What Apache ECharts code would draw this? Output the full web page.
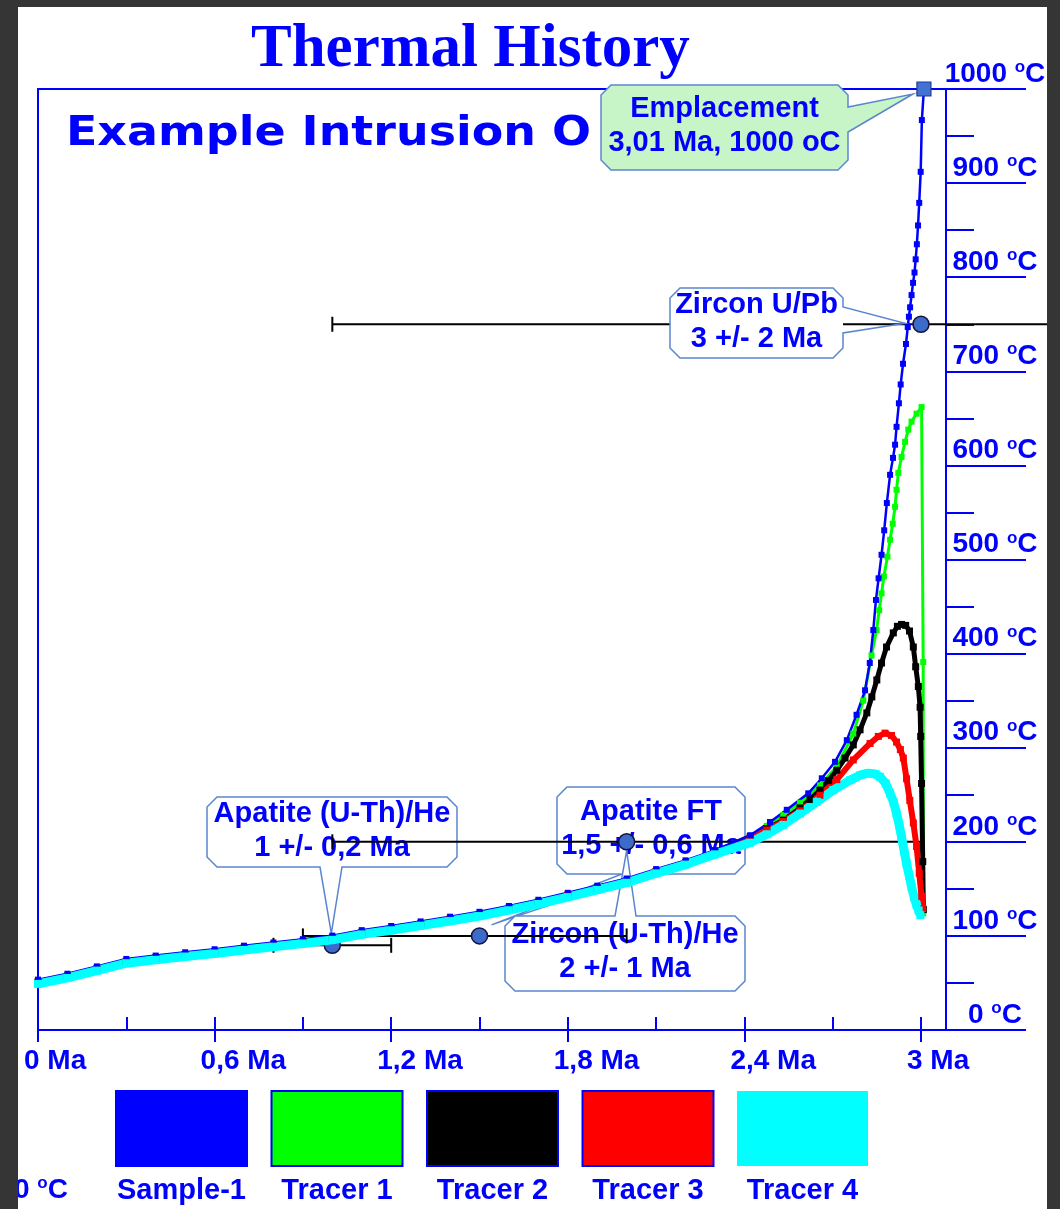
<!DOCTYPE html>
<html>
<head>
<meta charset="utf-8">
<script src="https://cdn.jsdelivr.net/npm/echarts@6/dist/echarts.min.js"></script>
<style>
html,body{margin:0;padding:0;background:#353535;}
#c{width:1060px;height:1209px;}
</style>
</head>
<body>
<div id="c"></div>
<script>
// ---------------- DATA ----------------
const titleText = 'Thermal History';
const subtitleText = 'Example Intrusion O';

// x axis (Ma) ticks and labels
const xTickValues = [0, 0.3, 0.6, 0.9, 1.2, 1.5, 1.8, 2.1, 2.4, 2.7, 3.0];
const xLabelValues = [0, 0.6, 1.2, 1.8, 2.4, 3.0];
const xLabelText = ['0 Ma', '0,6 Ma', '1,2 Ma', '1,8 Ma', '2,4 Ma', '3 Ma'];
// y axis (°C)
const yMin = 0, yMax = 1000, yInterval = 100;

const seriesNames = ['Sample-1', 'Tracer 1', 'Tracer 2', 'Tracer 3', 'Tracer 4'];

// shared time grid for the slow-cooling part (Ma)
const lowAge = [0, 0.1, 0.2, 0.3, 0.4, 0.5, 0.6, 0.7, 0.8, 0.9, 1.0, 1.1, 1.2, 1.3, 1.4, 1.5, 1.6, 1.7, 1.8, 1.9, 2.0, 2.1, 2.2, 2.3];

// Sample-1
const sample1LowTemp = [53.5, 59.8, 67.6, 75.5, 79.1, 82.6, 85.8, 89.6, 93, 96.5, 100.3, 106.1, 110.5, 115.4, 120.4, 125.6, 131.8, 138.4, 145.8, 153.4, 161, 171, 180.3, 191.2];
const sample1HighAge = [2.42, 2.487, 2.544, 2.617, 2.663, 2.708, 2.748, 2.781, 2.81, 2.826, 2.838, 2.847, 2.856, 2.866, 2.875, 2.884, 2.895, 2.905, 2.912, 2.917, 2.925, 2.931, 2.939, 2.949, 2.955, 2.959, 2.963, 2.968, 2.973, 2.978, 2.982, 2.986, 2.990, 2.994, 2.999, 3.003, 3.01];
const sample1HighTemp = [207, 221, 234, 251.5, 267.5, 285, 308, 335, 361, 390, 425, 457, 480, 505, 531, 560, 590, 608, 622, 641, 666, 686, 708, 729, 747, 758, 768, 781, 794, 805, 819, 835, 855, 879, 912, 967, 1000];

// Tracer 1
const tracer1LowTemp = [51.2, 57.5, 65.3, 73.2, 76.8, 80.3, 83.5, 87.3, 90.7, 94.2, 98, 103.8, 108.2, 113.1, 118.1, 123.3, 129.5, 136.1, 143.5, 151.1, 158.7, 168.7, 178, 188.9];
const tracer1HighAge = [2.42, 2.476, 2.532, 2.589, 2.657, 2.714, 2.77, 2.804, 2.832, 2.849, 2.858, 2.866, 2.874, 2.886, 2.895, 2.904, 2.912, 2.917, 2.923, 2.934, 2.946, 2.957, 2.968, 2.985, 3.002, 3.0075, 3.008];
const tracer1HighTemp = [206, 217, 228.5, 241.5, 260, 280, 315, 350, 398, 425, 446, 464, 482, 503, 521, 538, 556, 574, 592, 609, 625, 638, 646.5, 655, 662, 391, 124];

// Tracer 2
const tracer2LowTemp = [51, 57.3, 65.1, 73, 76.6, 80.1, 83.3, 87.1, 90.5, 94, 97.8, 103.6, 108, 112.9, 117.9, 123.1, 129.3, 135.9, 143.3, 150.9, 158.5, 168.5, 177.8, 188.7];
const tracer2HighAge = [2.42, 2.476, 2.532, 2.589, 2.623, 2.657, 2.686, 2.714, 2.742, 2.77, 2.793, 2.816, 2.833, 2.85, 2.866, 2.883, 2.906, 2.92, 2.934, 2.948, 2.961, 2.974, 2.982, 2.991, 2.997, 2.999, 3.002, 3.006, 3.008];
const tracer2HighTemp = [205.5, 214, 223, 236, 245, 255, 265, 276, 289, 303, 319, 337, 354, 372, 390, 407, 422, 429, 431, 430, 424, 407, 386, 365, 343, 312, 262, 179, 128];

// Tracer 3
const tracer3LowTemp = [50.8, 57.1, 64.9, 72.8, 76.4, 79.9, 83.1, 86.9, 90.3, 93.8, 97.6, 103.4, 107.8, 112.7, 117.7, 122.9, 129.1, 135.7, 143.1, 150.7, 158.3, 168.3, 177.6, 188.5];
const tracer3HighAge = [2.42, 2.476, 2.532, 2.589, 2.657, 2.714, 2.77, 2.827, 2.855, 2.878, 2.9, 2.917, 2.93, 2.94, 2.951, 2.962, 2.974, 2.985, 2.994, 3.002, 3.006];
const tracer3HighTemp = [204, 212.5, 221.5, 233, 249.5, 266, 287, 304.5, 312, 315.5, 313, 306, 298, 289, 267, 244, 220, 195, 166.5, 142, 129];

// Tracer 4
const tracer4LowTemp = [49, 55.3, 63.1, 71, 74.6, 78.1, 81.3, 85.1, 88.5, 92, 95.8, 101.6, 106, 110.9, 115.9, 121.1, 127.3, 133.9, 141.3, 148.9, 156.5, 166.5, 175.8, 186.7];
const tracer4HighAge = [2.419, 2.476, 2.532, 2.589, 2.646, 2.702, 2.759, 2.795, 2.821, 2.845, 2.861, 2.88, 2.895, 2.907, 2.917, 2.926, 2.934, 2.943, 2.951, 2.96, 2.968, 2.977, 2.985, 2.992, 2.998];
const tracer4HighTemp = [199, 208, 218, 230, 242.5, 255, 265.5, 271, 273, 272, 269, 262, 251.5, 242, 230, 218, 205, 190, 177, 164, 152, 141, 133, 127, 122];

// Thermochronometer constraints
const sampleNames = ['Apatite (U-Th)/He', 'Apatite FT', 'Zircon (U-Th)/He', 'Zircon U/Pb'];
const sampleAgeText = ['1 +/- 0,2 Ma', '1,5 +/- 0,6 Ma', '2 +/- 1 Ma', '3 +/- 2 Ma'];
const sampleAge = [1.0, 1.5, 2.0, 3.0];
const sampleTemp = [90, 100, 200, 750];
const sampleAgeMin = [0.8, 0.9, 1.0, 1.0];
const sampleAgeMax = [1.2, 2.0, 3.0, 5.0];

// Emplacement
const emplacementAge = 3.01;
const emplacementTemp = 1000;
const emplacementText = ['Emplacement', '3,01 Ma, 1000 oC'];

// ---------------- STYLE / LAYOUT ----------------
const FONT = "'Liberation Sans', Arial, Helvetica, sans-serif";
const BLUE = '#0000ff';
const seriesColors = ['#0000ff', '#00ff00', '#000000', '#ff0000', '#00ffff'];
const seriesLineWidth = [2.5, 3, 5, 6, 9];
const seriesSymbolSize = [6, 6, 7, 7, 8];
const BOX_STROKE = '#5a86d0';

// callout boxes in pixels: [x, y, w, h]; tip offsets relative to the point
const calloutLayout = [
  {box: [207, 797, 250, 70], side: 'bottom', base: [320, 342], tip: [-1, -12], fill: '#ffffff'},
  {box: [557, 787, 188, 87], side: 'bottom', base: [622, 641], tip: [12, -11], fill: '#ffffff'},
  {box: [505, 916, 240, 75], side: 'top', base: [615, 636], tip: [0, 9], fill: '#ffffff'},
  {box: [670, 288, 173, 70], side: 'right', base: [307, 333], tip: [-16, -1], fill: '#ffffff', solid: true}
];
const emplacementLayout = {box: [601, 85, 247, 85], side: 'right', base: [107, 132], tip: [-11, 5], fill: '#c8f5c8'};

function zip(a, b) { return a.map((v, i) => [v, b[i]]); }
const seriesData = [
  zip(lowAge.concat(sample1HighAge), sample1LowTemp.concat(sample1HighTemp)),
  zip(lowAge.concat(tracer1HighAge), tracer1LowTemp.concat(tracer1HighTemp)),
  zip(lowAge.concat(tracer2HighAge), tracer2LowTemp.concat(tracer2HighTemp)),
  zip(lowAge.concat(tracer3HighAge), tracer3LowTemp.concat(tracer3HighTemp)),
  zip(lowAge.concat(tracer4HighAge), tracer4LowTemp.concat(tracer4HighTemp))
];

function octagon(box, c) {
  const [x, y, w, h] = box;
  return [[x + c, y], [x + w - c, y], [x + w, y + c], [x + w, y + h - c], [x + w - c, y + h], [x + c, y + h], [x, y + h - c], [x, y + c]];
}
function calloutOutline(L, tip, c) {
  const [x, y, w, h] = L.box;
  const pts = [[x + c, y]];
  if (L.side === 'top') pts.push([L.base[0], y], tip, [L.base[1], y]);
  pts.push([x + w - c, y], [x + w, y + c]);
  if (L.side === 'right') pts.push([x + w, L.base[0]], tip, [x + w, L.base[1]]);
  pts.push([x + w, y + h - c], [x + w - c, y + h]);
  if (L.side === 'bottom') pts.push([L.base[1], y + h], tip, [L.base[0], y + h]);
  pts.push([x + c, y + h], [x, y + h - c], [x, y + c]);
  return pts;
}
function calloutGroup(L, p, lines) {
  const tip = [p[0] + L.tip[0], p[1] + L.tip[1]];
  const [x, y, w, h] = L.box;
  const children = [];
  if (L.solid) {
    children.push({type: 'polygon', shape: {points: octagon(L.box, 10)}, style: {fill: L.fill}});
  }
  children.push({type: 'polygon', shape: {points: calloutOutline(L, tip, 10)},
    style: {fill: L.solid ? 'none' : L.fill, stroke: BOX_STROKE, lineWidth: 1.5}});
  children.push({type: 'text', style: {text: lines.join('\n'), x: x + w / 2, y: y + h / 2 - 1.5,
    align: 'center', verticalAlign: 'middle', fill: BLUE, fontFamily: FONT, fontWeight: 'bold', fontSize: 29, lineHeight: 34}});
  return {type: 'group', children};
}

function renderCallout(params, api) {
  const i = api.value(2);
  const p = api.coord([api.value(0), api.value(1)]);
  return calloutGroup(calloutLayout[i], p, [sampleNames[i], sampleAgeText[i]]);
}
function renderAge(params, api) {
  const i = params.dataIndex;
  const p = api.coord([sampleAge[i], sampleTemp[i]]);
  const a = api.coord([sampleAgeMin[i], sampleTemp[i]]);
  const b = api.coord([sampleAgeMax[i], sampleTemp[i]]);
  const cap = 7.5;
  const st = {stroke: '#000000', lineWidth: 2};
  return {type: 'group', children: [
    {type: 'line', shape: {x1: a[0], y1: p[1], x2: b[0], y2: p[1]}, style: st},
    {type: 'line', shape: {x1: a[0], y1: p[1] - cap, x2: a[0], y2: p[1] + cap}, style: st},
    {type: 'line', shape: {x1: b[0], y1: p[1] - cap, x2: b[0], y2: p[1] + cap}, style: st},
    {type: 'circle', shape: {cx: p[0], cy: p[1], r: 8}, style: {fill: '#3d6bcc', stroke: '#14143a', lineWidth: 1.5}}
  ]};
}
function renderEmplacement(params, api) {
  const p = api.coord([api.value(0), api.value(1)]);
  const g = calloutGroup(emplacementLayout, p, emplacementText);
  g.children.push({type: 'rect', shape: {x: p[0] - 7, y: p[1] - 7, width: 14, height: 14},
    style: {fill: '#4173d2', stroke: '#1e3a9a', lineWidth: 1.2}});
  return g;
}

const degRich = {
  n: {fontFamily: FONT, fontWeight: 'bold', fontSize: 28, color: BLUE, lineHeight: 30},
  d: {fontFamily: FONT, fontWeight: 'bold', fontSize: 17, color: BLUE, verticalAlign: 'top'},
  c: {fontFamily: FONT, fontWeight: 'bold', fontSize: 28, color: BLUE, lineHeight: 30}
};
const degRichFill = {
  n: {fontFamily: FONT, fontWeight: 'bold', fontSize: 28, fill: BLUE, lineHeight: 30},
  d: {fontFamily: FONT, fontWeight: 'bold', fontSize: 17, fill: BLUE, verticalAlign: 'top'},
  c: {fontFamily: FONT, fontWeight: 'bold', fontSize: 28, fill: BLUE, lineHeight: 30}
};

const lineSeriesOrder = [1, 2, 3, 0, 4];
const lineSeries = lineSeriesOrder.map(k => ({
  type: 'line', name: seriesNames[k], data: seriesData[k], z: 3,
  symbol: 'rect', symbolSize: seriesSymbolSize[k], showSymbol: true, showAllSymbol: true,
  clip: false, smooth: false, silent: true, animation: false,
  lineStyle: {color: seriesColors[k], width: seriesLineWidth[k]},
  itemStyle: {color: seriesColors[k], borderWidth: 0}
}));

const option = {
  backgroundColor: '#353535',
  animation: false,
  textStyle: {fontFamily: FONT},
  title: {
    text: titleText, left: 251, top: 20, padding: 0,
    textStyle: {fontFamily: "'Liberation Serif', 'Times New Roman', serif", fontWeight: 'bold', fontSize: 61, color: BLUE}
  },
  grid: {left: 38, top: 89, right: 114, bottom: 179, show: true, borderColor: BLUE, borderWidth: 2,
    backgroundColor: 'transparent', containLabel: false, outerBoundsMode: 'none'},
  legend: {
    left: 115, top: 1090, padding: 0, orient: 'horizontal',
    itemWidth: 131, itemHeight: 75, itemGap: 22.5, icon: 'rect', selectedMode: false,
    itemStyle: {borderColor: BLUE, borderWidth: 2},
    data: seriesNames.map((n, k) => k === 4 ? {name: n, icon: 'rect', itemStyle: {borderWidth: 0}} : {name: n, icon: 'rect'}),
    formatter: '{a|{name}}',
    textStyle: {
      color: BLUE, fontFamily: FONT, fontWeight: 'bold', fontSize: 29,
      padding: [62, 10, -62, -136],
      rich: {a: {width: 131, align: 'center', fontFamily: FONT, fontWeight: 'bold', fontSize: 29, color: BLUE}}
    }
  },
  xAxis: [
    {
      type: 'value', min: 0, max: 3.085, interval: 0.3, position: 'bottom',
      axisLine: {show: true, onZero: false, lineStyle: {color: BLUE, width: 2}},
      axisTick: {show: true, inside: false, length: 12, lineStyle: {color: BLUE, width: 2}, customValues: xLabelValues},
      axisLabel: {
        show: true, customValues: xLabelValues, margin: 17, align: 'left', padding: [0, 0, 0, -14],
        color: BLUE, fontFamily: FONT, fontWeight: 'bold', fontSize: 28,
        formatter: v => { const k = xLabelValues.findIndex(t => Math.abs(t - v) < 1e-6); return k < 0 ? '' : xLabelText[k]; }
      },
      splitLine: {show: false}
    },
    {
      type: 'value', min: 0, max: 3.085, interval: 0.3, position: 'bottom',
      axisLine: {show: false},
      axisTick: {show: true, inside: true, length: 13, lineStyle: {color: BLUE, width: 2}, customValues: xTickValues},
      axisLabel: {show: false},
      splitLine: {show: false}
    }
  ],
  yAxis: {
    type: 'value', position: 'right', min: yMin, max: yMax, interval: yInterval,
    axisLine: {show: true, onZero: false, lineStyle: {color: BLUE, width: 2}},
    axisTick: {show: true, inside: false, length: 80, lineStyle: {color: BLUE, width: 2}},
    minorTick: {show: true, splitNumber: 2, length: 28, lineStyle: {color: BLUE, width: 2}},
    axisLabel: {
      margin: 49, align: 'center', verticalAlign: 'bottom',
      formatter: v => '{n|' + v + ' }{d|o}{c|C}', rich: degRich
    },
    splitLine: {show: false}, minorSplitLine: {show: false}
  },
  graphic: [
    {type: 'rect', z: -10, silent: true, shape: {x: 18, y: 7, width: 1029, height: 1202}, style: {fill: '#ffffff'}},
    {type: 'text', z: 0, silent: true, x: 66, y: 134, scaleX: 1.12,
      style: {text: subtitleText, fill: BLUE, fontFamily: "'DejaVu Sans', Verdana, sans-serif", fontWeight: 'bold', fontSize: 41, verticalAlign: 'middle'}},
    {type: 'text', z: 0, silent: true, x: 14, y: 1190,
      style: {text: '{n|0 }{d|o}{c|C}', rich: degRichFill, verticalAlign: 'middle', fill: BLUE}},
    {type: 'rect', z: 100, silent: true, shape: {x: 0, y: 0, width: 18, height: 1209}, style: {fill: '#353535'}},
    {type: 'rect', z: 100, silent: true, shape: {x: 0, y: 0, width: 1060, height: 7}, style: {fill: '#353535'}},
    {type: 'rect', z: 100, silent: true, shape: {x: 1047, y: 0, width: 13, height: 1209}, style: {fill: '#353535'}}
  ],
  series: [
    {type: 'custom', name: 'callouts', z: 1, clip: false, silent: true, renderItem: renderCallout,
      data: [0, 1, 2].map(i => [sampleAge[i], sampleTemp[i], i]), encode: {x: 0, y: 1}},
    {type: 'custom', name: 'ages', z: 2, clip: false, silent: true, renderItem: renderAge,
      data: sampleAge.map((a, i) => [a, sampleTemp[i]]), encode: {x: 0, y: 1}}
  ].concat(lineSeries).concat([
    {type: 'custom', name: 'callout-upb', z: 4, clip: false, silent: true, renderItem: renderCallout,
      data: [3].map(i => [sampleAge[i], sampleTemp[i], i]), encode: {x: 0, y: 1}},
    {type: 'custom', name: 'emplacement', z: 5, clip: false, silent: true, renderItem: renderEmplacement,
      data: [[emplacementAge, emplacementTemp]], encode: {x: 0, y: 1}}
  ])
};

const chart = echarts.init(document.getElementById('c'), null, {renderer: 'canvas', width: 1060, height: 1209});
chart.setOption(option);
</script>
</body>
</html>
